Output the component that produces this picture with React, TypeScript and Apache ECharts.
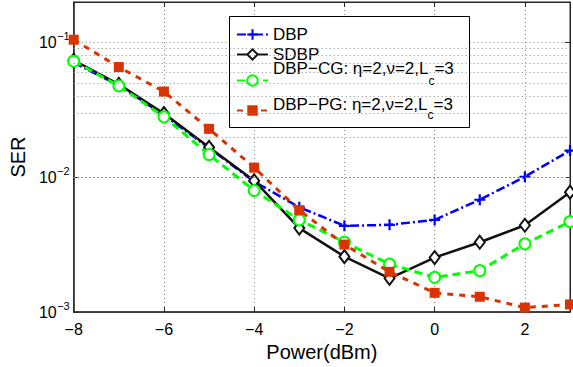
import React, { useEffect, useRef } from 'react';
import * as echarts from 'echarts';

const powerDbm = [-8, -7, -6, -5, -4, -3, -2, -1, 0, 1, 2, 3];
const serDBP = [0.071, 0.048, 0.029, 0.0165, 0.0093, 0.006, 0.00437, 0.00444, 0.00483, 0.00682, 0.0101, 0.0158];
const serSDBP = [0.0739, 0.049, 0.0297, 0.0167, 0.00944, 0.0042, 0.00258, 0.00178, 0.00254, 0.0033, 0.00441, 0.00776];
const serCG = [0.0727, 0.0478, 0.0281, 0.01476, 0.00798, 0.00483, 0.0033, 0.00227, 0.00181, 0.00203, 0.00321, 0.00469];
const serPG = [0.105, 0.0658, 0.0433, 0.0229, 0.0118, 0.00571, 0.00317, 0.00199, 0.00139, 0.0013, 0.00108, 0.00114];

const xTicks = [-8, -6, -4, -2, 0, 2];
const yDecades = [0.001, 0.01, 0.1];
const minorGrid = [0.002, 0.003, 0.004, 0.005, 0.006, 0.007, 0.008, 0.009, 0.02, 0.03, 0.04, 0.05, 0.06, 0.07, 0.08, 0.09];

const NAME_DBP = 'DBP';
const NAME_SDBP = 'SDBP';
const NAME_CG = 'DBP−CG: η=2,ν=2,Lc=3';
const NAME_PG = 'DBP−PG: η=2,ν=2,Lc=3';

const FONT = '"Liberation Sans", Arial, Helvetica, sans-serif';
const RED = '#D93300';
const GREEN = '#00FF00';
const BLUE = '#0000FF';
const AXIS = '#262626';
const GRID = '#8a8a8a';

const pts = (ys: number[]) => powerDbm.map((x, i) => [x, ys[i]]);
const fmtMinus = (v: number) => (v < 0 ? '−' + Math.abs(v) : String(v));
const decadeExp = (v: number): number | null => {
  const e = Math.log10(v);
  const r = Math.round(e);
  if (Math.abs(e - r) > 1e-6) return null;
  return yDecades.some((d) => Math.abs(Math.log10(d) - r) < 1e-6) ? r : null;
};

export default function App() {
  const ref = useRef<HTMLDivElement>(null);
  useEffect(() => {
    if (!ref.current) return;
    const chart = echarts.init(ref.current, null, { renderer: 'svg' });
    const legendBase = {
      orient: 'vertical',
      left: 236,
      itemWidth: 31,
      itemHeight: 13,
      padding: 0,
      selectedMode: false,
      z: 5,
      textStyle: { color: '#000', fontFamily: FONT, fontSize: 17 },
    };
    const richPlain = { a: { fontSize: 17, lineHeight: 20, verticalAlign: 'middle', fontFamily: FONT, color: '#000' } };
    const yLog = { type: 'log', logBase: 10, min: 0.001, max: 0.2 };
    const option: any = {
      animation: false,
      backgroundColor: '#fff',
      grid: { left: 70, right: 1, top: 2, bottom: 50, show: true, borderColor: AXIS, borderWidth: 1 },
      graphic: [
        {
          type: 'rect',
          z: 3,
          shape: { x: 229.5, y: 16.5, width: 240, height: 111 },
          style: { fill: '#fff', stroke: '#000', lineWidth: 1 },
        },
      ],
      legend: [
        { ...legendBase, top: 26, data: [NAME_DBP], formatter: () => '{a|DBP}', textStyle: { ...legendBase.textStyle, rich: richPlain } },
        { ...legendBase, top: 46, data: [NAME_SDBP], formatter: () => '{a|SDBP}', textStyle: { ...legendBase.textStyle, rich: richPlain } },
        {
          ...legendBase,
          top: 60,
          data: [NAME_CG],
          formatter: () => '{a|DBP−CG: η=2,ν=2,L}{s|c}{a|=3}',
          textStyle: {
            ...legendBase.textStyle,
            rich: {
              a: { fontSize: 17, lineHeight: 18, verticalAlign: 'middle', padding: [0, 0, 24, 0], fontFamily: FONT, color: '#000' },
              s: { fontSize: 12, lineHeight: 13, verticalAlign: 'middle', fontFamily: FONT, color: '#000' },
            },
          },
        },
        {
          ...legendBase,
          top: 96,
          data: [NAME_PG],
          formatter: () => '{a|DBP−PG: η=2,ν=2,L}{s|c}{a|=3}',
          textStyle: {
            ...legendBase.textStyle,
            rich: {
              a: { fontSize: 17, lineHeight: 18, verticalAlign: 'middle', padding: [0, 0, 12, 0], fontFamily: FONT, color: '#000' },
              s: { fontSize: 12, lineHeight: 13, verticalAlign: 'middle', padding: [8, 0, 0, 0], fontFamily: FONT, color: '#000' },
            },
          },
        },
      ],
      xAxis: [
        {
          type: 'value',
          min: -8,
          max: 3,
          interval: 2,
          name: 'Power(dBm)',
          nameLocation: 'middle',
          nameGap: 24,
          nameTextStyle: { fontFamily: FONT, fontSize: 20, color: '#000' },
          axisLine: { show: true, onZero: false, lineStyle: { color: AXIS, width: 1.5 } },
          axisTick: { show: true, inside: true, length: 5, lineStyle: { color: AXIS } },
          axisLabel: {
            margin: 9,
            fontFamily: FONT,
            fontSize: 16,
            color: '#000',
            formatter: (v: number) => (xTicks.includes(v) ? fmtMinus(v) : ''),
          },
          splitLine: { show: true, lineStyle: { type: [1, 3], color: GRID, width: 1 } },
        },
        {
          type: 'value',
          position: 'top',
          min: -8,
          max: 3,
          interval: 2,
          axisLine: { show: true, onZero: false, lineStyle: { color: AXIS, width: 1 } },
          axisTick: { show: true, inside: true, length: 5, lineStyle: { color: AXIS } },
          axisLabel: { show: false },
          splitLine: { show: false },
        },
      ],
      yAxis: [
        {
          ...yLog,
          position: 'left',
          name: 'SER',
          nameLocation: 'middle',
          nameGap: 44,
          nameTextStyle: { fontFamily: FONT, fontSize: 20, color: '#000' },
          axisLine: { show: true, onZero: false, lineStyle: { color: AXIS, width: 1.5 } },
          axisTick: { show: true, inside: true, length: 5, lineStyle: { color: AXIS } },
          axisLabel: {
            margin: 17,
            fontFamily: FONT,
            fontSize: 16,
            color: '#000',
            formatter: (v: number) => (decadeExp(v) === null ? '' : '10'),
          },
          splitLine: { show: true, lineStyle: { type: [1, 3], color: GRID, width: 1 } },
        },
        {
          ...yLog,
          position: 'right',
          axisLine: { show: true, onZero: false, lineStyle: { color: AXIS, width: 1 } },
          axisTick: { show: true, inside: true, length: 5, lineStyle: { color: AXIS } },
          axisLabel: { show: false },
          splitLine: { show: false },
        },
        {
          ...yLog,
          position: 'left',
          axisLine: { show: false },
          axisTick: { show: false },
          splitLine: { show: false },
          axisLabel: {
            margin: 4,
            fontFamily: FONT,
            fontSize: 11,
            lineHeight: 13,
            verticalAlign: 'bottom',
            color: '#000',
            formatter: (v: number) => {
              const r = decadeExp(v);
              return r === null ? '' : fmtMinus(r);
            },
          },
        },
      ],
      series: [
        {
          type: 'line',
          name: 'minor-grid',
          data: [],
          z: 1,
          silent: true,
          markLine: {
            silent: true,
            symbol: 'none',
            label: { show: false },
            animation: false,
            lineStyle: { type: [1, 3], color: GRID, width: 1 },
            data: minorGrid.map((v) => ({ yAxis: v })),
          },
        },
        {
          type: 'line',
          name: NAME_DBP,
          data: pts(serDBP),
          symbol: 'path://M4,0h2v4h4v2h-4v4h-2v-4h-4v-2h4z',
          symbolSize: 11,
          itemStyle: { color: BLUE, borderWidth: 0 },
          lineStyle: { color: BLUE, width: 2.5, type: [9, 3, 2, 3] },
          z: 2,
        },
        {
          type: 'line',
          name: NAME_SDBP,
          data: pts(serSDBP),
          symbol: 'emptyDiamond',
          symbolSize: [10, 13],
          itemStyle: { color: '#111', borderColor: '#111', borderWidth: 3 },
          lineStyle: { color: '#111', width: 2.5, type: 'solid' },
          z: 3,
        },
        {
          type: 'line',
          name: NAME_CG,
          data: pts(serCG),
          symbol: 'emptyCircle',
          symbolSize: 11,
          itemStyle: { color: GREEN, borderColor: GREEN, borderWidth: 2.5 },
          lineStyle: { color: GREEN, width: 3, type: [8, 5] },
          z: 4,
        },
        {
          type: 'line',
          name: NAME_PG,
          data: pts(serPG),
          symbol: 'rect',
          symbolSize: 10,
          itemStyle: { color: RED },
          lineStyle: { color: RED, width: 3, type: [6, 6] },
          z: 5,
        },
      ],
    };
    chart.setOption(option);
    return () => chart.dispose();
  }, []);
  return <div ref={ref} style={{ position: 'fixed', left: 0, top: 0, width: 573, height: 367 }} />;
}
